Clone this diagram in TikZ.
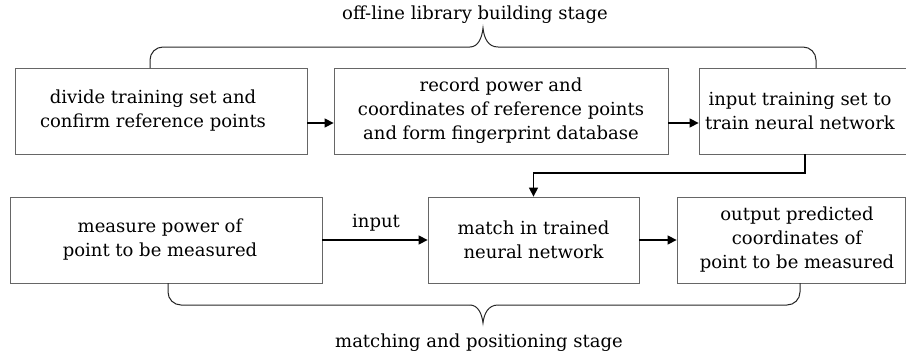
\documentclass[tikz,border=0pt]{standalone}
\usepackage{fontspec}
\setmainfont{DejaVu Serif}
\usetikzlibrary{arrows.meta}
\begin{document}
\begin{tikzpicture}[x=1pt,y=-1pt,
  font=\fontsize{18}{24}\selectfont,
  box/.style={draw=black!60,line width=0.8pt,minimum height=86pt,inner sep=0pt,align=center,text=black},
  txt/.style={inner sep=0pt,align=center,text=black},
  arr/.style={line width=1.4pt,-{Triangle[length=9pt,width=9pt]}},
  brace/.style={line width=1pt,black!85,rounded corners=13pt},
  lbl/.style={text=black}]
\useasboundingbox (0,0) rectangle (906,359);
% top row
\node[box,minimum width=292pt] (b1) at (161,111) {};
\node[txt] (b1t) at (153,111) {divide training set and\\confirm reference points};
\node[box,minimum width=334pt] (b2) at (501,111) {record power and\\coordinates of reference points\\and form fingerprint database};
\node[box,minimum width=209pt] (b3) at (803.5,111) {};
\node[txt] (b3t) at (800,111) {input training set to\\train neural network};
% bottom row
\node[box,minimum width=312pt] (b4) at (166,240) {};
\node[txt] (b4t) at (160,240) {measure power of\\point to be measured};
\node[box,minimum width=211pt] (b5) at (533.5,240) {match in trained\\neural network};
\node[box,minimum width=228pt] (b6) at (791,240) {};
\node[txt] (b6t) at (797,240) {output predicted\\coordinates of\\point to be measured};
% labels
\node[lbl] (top) at (475,15) {off-line library building stage};
\node[lbl] (bot) at (479,343) {matching and positioning stage};
\node[lbl] (inp) at (376,223) {input};
% arrows
\draw[arr] (b1.east |- 0,123) -- (b2.west |- 0,123);
\draw[arr] (b2.east |- 0,123) -- (b3.west |- 0,123);
\draw[arr] (b4.east) -- (b5.west);
\draw[arr] (b5.east) -- (b6.west);
\coordinate (c1) at (805,173);
\draw[arr] (b3.south -| c1) -- (c1) -- (c1 -| b5.north) -- (b5.north);
% top brace
\coordinate (tt) at (483,28);
\draw[brace] (150,68) -- (150,47) -- (470,47);
\draw[line width=1pt,black!85] (470,47) .. controls (478,47) and (482,38) .. (tt) .. controls (484,38) and (488,47) .. (498,47);
\draw[brace] (498,47) -- (816,47) -- (816,68);
% bottom brace
\coordinate (bt) at (483,323);
\draw[brace] (168,283) -- (168,305) -- (470,305);
\draw[line width=1pt,black!85] (470,305) .. controls (478,305) and (482,314) .. (bt) .. controls (484,314) and (488,305) .. (498,305);
\draw[brace] (498,305) -- (800,305) -- (800,283);
\end{tikzpicture}
\end{document}
